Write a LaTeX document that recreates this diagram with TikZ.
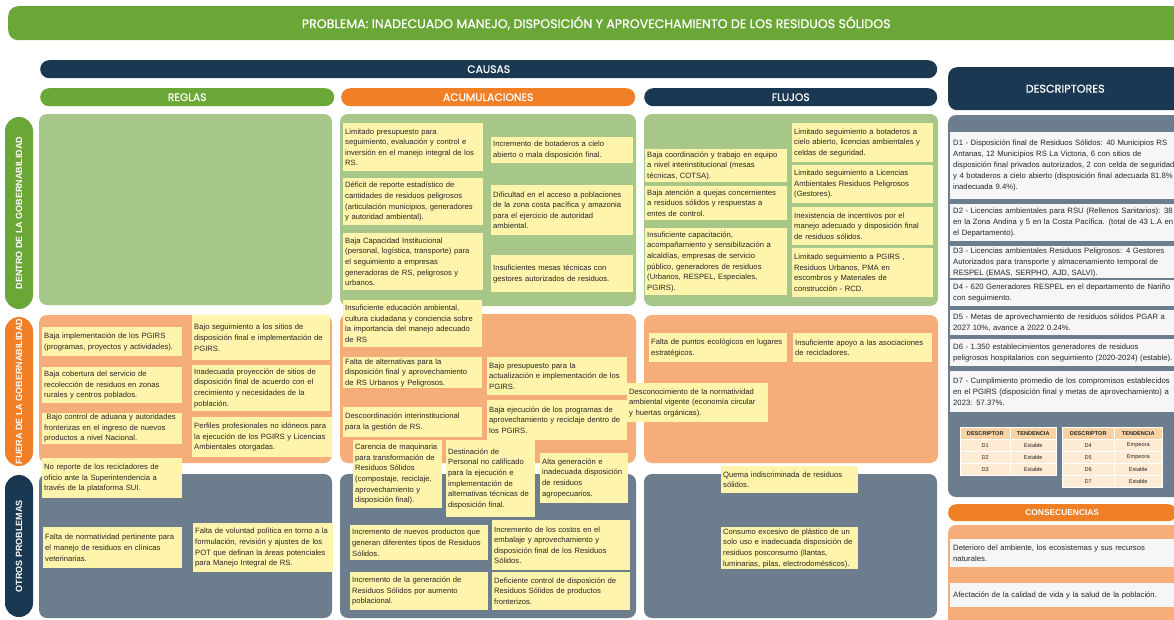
\documentclass[tikz,border=0pt]{standalone}
\usepackage{fontspec}
\setmainfont{Liberation Sans}
\newfontfamily\pop{Poppins}[FakeBold=0.6]
\definecolor{tgreen}{HTML}{6BA736}
\definecolor{lgreen}{HTML}{A7C789}
\definecolor{torange}{HTML}{F07F26}
\definecolor{lorange}{HTML}{F5AD7A}
\definecolor{navy}{HTML}{1B3853}
\definecolor{slate}{HTML}{6C7D8D}
\definecolor{yel}{HTML}{FFF4AB}
\definecolor{dwhite}{HTML}{F6F6F6}
\definecolor{ink}{HTML}{262626}
\definecolor{thead}{HTML}{F9D3A3}
\definecolor{trow}{HTML}{FDEBD3}
\begin{document}
\begin{tikzpicture}[x=1pt,y=-1pt,
  sb/.style={fill=yel, anchor=north west, inner xsep=2pt, inner ysep=1pt, align=left, font=\fontsize{7.65}{10.6}\selectfont, text=ink},
  db/.style={fill=dwhite, anchor=north west, inner xsep=3pt, inner ysep=1pt, align=left, text width=260pt, font=\fontsize{7.7}{10.9}\selectfont, text=ink},
  hbar/.style={anchor=north west, rounded corners=9pt, inner sep=0pt, text=white, font=\pop\fontsize{10.8}{12}\selectfont},
  pill/.style={rotate=90, rounded corners=14pt, minimum height=28pt, inner sep=0pt, text=white, font=\bfseries\fontsize{9}{10}\selectfont},
  cell/.style={anchor=north west, draw=white, line width=0.5pt, inner sep=0pt, minimum height=12pt, font=\fontsize{5.6}{6}\selectfont, text=ink},
  panel/.style={rounded corners=8pt}
]
\useasboundingbox (0,0) rectangle (1174,619);
\fill[white] (0,0) rectangle (1174,619);

% ---------- headers ----------
\node[hbar, fill=tgreen, rounded corners=10pt, minimum width=1176pt, minimum height=34pt, font=\pop\fontsize{12.6}{14}\selectfont] (title) at (8,6)
  {PROBLEMA: INADECUADO MANEJO, DISPOSICIÓN Y APROVECHAMIENTO DE LOS RESIDUOS SÓLIDOS};
\node[hbar, fill=navy, minimum width=897pt, minimum height=18pt] (causas) at (40,60) {CAUSAS};
\node[hbar, fill=tgreen, minimum width=294pt, minimum height=18pt] (reglas) at (40,88) {REGLAS};
\node[hbar, fill=torange, minimum width=294pt, minimum height=18pt] (acum) at (341,88) {ACUMULACIONES};
\node[hbar, fill=navy, minimum width=293pt, minimum height=18pt] (flujos) at (644,88) {FLUJOS};
\node[hbar, fill=navy, rounded corners=9pt, minimum width=234pt, minimum height=43pt, font=\pop\fontsize{11.2}{12}\selectfont] (descriptores) at (948,67) {DESCRIPTORES};

% ---------- side pills ----------
\node[pill, fill=tgreen, minimum width=192pt] (dentro) at (19,213) {DENTRO DE LA GOBERNABILIDAD};
\node[pill, fill=torange, minimum width=149pt] (fuera) at (19,391.5) {FUERA DE LA GOBERNABILIDAD};
\node[pill, fill=navy, minimum width=142pt] (otros) at (19,546) {OTROS PROBLEMAS};

% ---------- panels ----------
\fill[panel, lgreen] (39,114) rectangle (332,305);
\fill[panel, lgreen] (340,114) rectangle (636,306);
\fill[panel, lgreen] (644,114) rectangle (938,306);
\fill[panel, lorange] (39,315) rectangle (332,463);
\fill[panel, lorange] (340,314) rectangle (636,463);
\fill[panel, lorange] (644,315) rectangle (938,463);
\fill[panel, slate] (39,474) rectangle (332,618);
\fill[panel, slate] (340,474) rectangle (636,618);
\fill[panel, slate] (644,474) rectangle (937,618);
\fill[panel, slate] (948,115) rectangle (1190,497);
\fill[panel, lorange] (948,525) rectangle (1190,640);

% ---------- acumulaciones (green) ----------
\node[sb, text width=136pt, minimum height=48pt] (a1) at (343,123) {Limitado presupuesto para\\ seguimiento, evaluación y control e\\ inversión en el manejo integral de los\\ RS.};
\node[sb, text width=138pt, minimum height=26pt] (a2) at (491,137) {Incremento de botaderos a cielo\\ abierto o mala disposición final.};
\node[sb, text width=136pt, minimum height=47pt] (a3) at (343,178) {Déficit de reporte estadístico de\\ cantidades de residuos peligrosos\\ (articulación municipios, generadores\\ y autoridad ambiental).};
\node[sb, text width=138pt, minimum height=50pt] (a4) at (491,185) {Dificultad en el acceso a poblaciones\\ de la zona costa pacífica y amazonia\\ para el ejercicio de autoridad\\ ambiental.};
\node[sb, text width=136pt, minimum height=57pt] (a5) at (343,233) {Baja Capacidad Institucional\\ (personal, logística, transporte) para\\ el seguimiento a empresas\\ generadoras de RS, peligrosos y\\ urbanos.};
\node[sb, text width=138pt, minimum height=37pt] (a6) at (491,255) {Insuficientes mesas técnicas con\\ gestores autorizados de residuos.};
\node[sb, text width=135pt, minimum height=47pt] (a7) at (343,300) {Insuficiente educación ambiental,\\ cultura ciudadana y conciencia sobre\\ la importancia del manejo adecuado\\ de RS};

% ---------- acumulaciones (orange) ----------
\node[sb, text width=135pt, minimum height=31pt] (a8) at (343,357) {Falta de alternativas para la\\ disposición final y aprovechamiento\\ de RS Urbanos y Peligrosos.};
\node[sb, text width=136pt, minimum height=38pt] (a9) at (487,357) {Bajo presupuesto para la\\ actualización e implementación de los\\ PGIRS.};
\node[sb, text width=135pt, minimum height=30pt] (a10) at (343,407) {Descoordinación interinstitucional\\ para la gestión de RS.};
\node[sb, text width=136pt, minimum height=40pt] (a11) at (487,400) {Baja ejecución de los programas de\\ aprovechamiento y reciclaje dentro de\\ los PGIRS.};

% ---------- acumulaciones (gray) ----------
\node[sb, text width=85pt, minimum height=68pt] (a12) at (353,440) {Carencia de maquinaria\\ para transformación de\\ Residuos Sólidos\\ (compostaje, reciclaje,\\ aprovechamiento y\\ disposición final).};
\node[sb, text width=85pt, minimum height=77pt] (a13) at (446,440) {Destinación de\\ Personal no calificado\\ para la ejecución e\\ implementación de\\ alternativas técnicas de\\ disposición final.};
\node[sb, text width=84pt, minimum height=50pt] (a14) at (540,453) {Alta generación e\\ inadecuada disposición\\ de residuos\\ agropecuarios.};
\node[sb, text width=134pt, minimum height=35pt] (a15) at (350,525) {Incremento de nuevos productos que\\ generan diferentes tipos de Residuos\\ Sólidos.};
\node[sb, text width=134pt, minimum height=50pt] (a16) at (492,520) {Incremento de los costos en el\\ embalaje y aprovechamiento y\\ disposición final de los Residuos\\ Sólidos.};
\node[sb, text width=134pt, minimum height=38pt] (a17) at (350,572) {Incremento de la generación de\\ Residuos Sólidos por aumento\\ poblacional.};
\node[sb, text width=134pt, minimum height=38pt] (a18) at (492,572) {Deficiente control de disposición de\\ Residuos Sólidos de productos\\ fronterizos.};

% ---------- flujos (green) ----------
\node[sb, text width=138pt, minimum height=33pt] (f1) at (645,149) {Baja coordinación y trabajo en equipo\\ a nivel interinstitucional (mesas\\ técnicas, COTSA).};
\node[sb, text width=138pt, minimum height=34pt] (f2) at (645,186) {Baja atención a quejas concernientes\\ a residuos sólidos y respuestas a\\ entes de control.};
\node[sb, text width=138pt, minimum height=67pt] (f3) at (645,228) {Insuficiente capacitación,\\ acompañamiento y sensibilización a\\ alcaldías, empresas de servicio\\ público, generadores de residuos\\ (Urbanos, RESPEL, Especiales,\\ PGIRS).};
\node[sb, text width=137pt, minimum height=39pt] (f4) at (792,123) {Limitado seguimiento a botaderos a\\ cielo abierto, licencias ambientales y\\ celdas de seguridad.};
\node[sb, text width=137pt, minimum height=38pt] (f5) at (792,165) {Limitado seguimiento a Licencias\\ Ambientales Residuos Peligrosos\\ (Gestores).};
\node[sb, text width=137pt, minimum height=38pt] (f6) at (792,207) {Inexistencia de incentivos por el\\ manejo adecuado y disposición final\\ de residuos sólidos.};
\node[sb, text width=137pt, minimum height=49pt] (f7) at (792,248) {Limitado seguimiento a PGIRS ,\\ Residuos Urbanos, PMA en\\ escombros y Materiales de\\ construcción - RCD.};

% ---------- flujos (orange) ----------
\node[sb, text width=134pt, minimum height=29pt] (f8) at (649,333) {Falta de puntos ecológicos en lugares\\ estratégicos.};
\node[sb, text width=135pt, minimum height=29pt] (f9) at (793,333) {Insuficiente apoyo a las asociaciones\\ de recicladores.};
\node[sb, text width=137pt, minimum height=39pt] (f10) at (627,383) {Desconocimiento de la normatividad\\ ambiental vigente (economía circular\\ y huertas orgánicas).};

% ---------- flujos (gray) ----------
\node[sb, text width=133pt, minimum height=27pt] (f11) at (721,466) {Quema indiscriminada de residuos\\ sólidos.};
\node[sb, text width=133pt, minimum height=42pt] (f12) at (721,527) {Consumo excesivo de plástico de un\\ solo uso e inadecuada disposición de\\ residuos posconsumo (llantas,\\ luminarias, pilas, electrodomésticos).};

% ---------- reglas ----------
\node[sb, text width=136pt, minimum height=29pt] (r1) at (42,327) {Baja implementación de los PGIRS\\ (programas, proyectos y actividades).};
\node[sb, text width=134pt, minimum height=45pt] (r2) at (192,315) {Bajo seguimiento a los sitios de\\ disposición final e implementación de\\ PGIRS.};
\node[sb, text width=136pt, minimum height=36pt] (r3) at (42,367) {Baja cobertura del servicio de\\ recolección de residuos en zonas\\ rurales y centros poblados.};
\node[sb, text width=134pt, minimum height=46pt] (r4) at (192,365) {Inadecuada proyección de sitios de\\ disposición final de acuerdo con el\\ crecimiento y necesidades de la\\ población.};
\node[sb, text width=136pt, minimum height=30pt] (r5) at (42,413) {\ Bajo control de aduana y autoridades\\ fronterizas en el ingreso de nuevos\\ productos a nivel Nacional.};
\node[sb, text width=136pt, minimum height=40pt] (r6) at (192,417) {Perfiles profesionales no idóneos para\\ la ejecución de los PGIRS y Licencias\\ Ambientales otorgadas.};
\node[sb, text width=136pt, minimum height=40pt] (r7) at (42,458) {No reporte de los recicladores de\\ oficio ante la Superintendencia a\\ través de la plataforma SUI.};
\node[sb, text width=135pt, minimum height=41pt] (r8) at (43,527) {Falta de normatividad pertinente para\\ el manejo de residuos en clínicas\\ veterinarias.};
\node[sb, text width=136pt, minimum height=49pt] (r9) at (193,523) {Falta de voluntad política en torno a la\\ formulación, revisión y ajustes de los\\ POT que definan la áreas potenciales\\ para Manejo Integral de RS.};

% ---------- descriptores ----------
\node[db, minimum height=67pt] (d1) at (950,132) {D1 - Disposición final de Residuos Sólidos: 40 Municipios RS\\ Antanas, 12 Municipios RS La Victoria, 6 con sitios de\\ disposición final privados autorizados, 2 con celda de seguridad\\ y 4 botaderos a cielo abierto (disposición final adecuada 81.8\%\\ inadecuada 9.4\%).};
\node[db, minimum height=37pt] (d2) at (950,204) {D2 - Licencias ambientales para RSU (Rellenos Sanitarios): 38\\ en la Zona Andina y 5 en la Costa Pacífica. (total de 43 L.A en\\ el Departamento).};
\node[db, minimum height=32pt] (d3) at (950,246) {D3 - Licencias ambientales Residuos Peligrosos: 4 Gestores\\ Autorizados para transporte y almacenamiento temporal de\\ RESPEL (EMAS, SERPHO, AJD, SALVI).};
\node[db, minimum height=26pt] (d4) at (950,280) {D4 - 620 Generadores RESPEL en el departamento de Nariño\\ con seguimiento.};
\node[db, minimum height=25pt] (d5) at (950,310) {D5 - Metas de aprovechamiento de residuos sólidos PGAR a\\ 2027 10\%, avance a 2022 0.24\%.};
\node[db, minimum height=27pt] (d6) at (950,339) {D6 - 1.350 establecimientos generadores de residuos\\ peligrosos hospitalarios con seguimiento (2020-2024) (estable).};
\node[db, minimum height=41pt] (d7) at (950,371) {D7 - Cumplimiento promedio de los compromisos establecidos\\ en el PGIRS (disposición final y metas de aprovechamiento) a\\ 2023: 57.37\%.};

% ---------- tabla ----------
\node[cell, fill=thead, minimum width=50pt, font=\bfseries\fontsize{5.6}{6}\selectfont] (th1) at (960,427) {DESCRIPTOR};
\node[cell, fill=thead, minimum width=46pt, font=\bfseries\fontsize{5.6}{6}\selectfont] (th2) at (1010,427) {TENDENCIA};
\node[cell, fill=thead, minimum width=52pt, font=\bfseries\fontsize{5.6}{6}\selectfont] (th3) at (1062,427) {DESCRIPTOR};
\node[cell, fill=thead, minimum width=48pt, font=\bfseries\fontsize{5.6}{6}\selectfont] (th4) at (1114,427) {TENDENCIA};
\foreach \r/\a/\b in {1/D1/Estable,2/D2/Estable,3/D3/Estable}{
  \node[cell, fill=trow, minimum width=50pt] (tl\r a) at (960,427+12*\r) {\a};
  \node[cell, fill=trow, minimum width=46pt] (tl\r b) at (1010,427+12*\r) {\b};
}
\foreach \r/\a/\b in {1/D4/Empeora,2/D5/Empeora,3/D6/Estable,4/D7/Estable}{
  \node[cell, fill=trow, minimum width=52pt] (tr\r a) at (1062,427+12*\r) {\a};
  \node[cell, fill=trow, minimum width=48pt] (tr\r b) at (1114,427+12*\r) {\b};
}

% ---------- consecuencias ----------
\node[hbar, fill=torange, rounded corners=8pt, minimum width=228pt, minimum height=17pt, font=\bfseries\fontsize{8.4}{10}\selectfont] (consec) at (948,504) {CONSECUENCIAS};
\node[db, minimum height=28pt] (c1) at (950,539) {Deterioro del ambiente, los ecosistemas y sus recursos\\ naturales.};
\node[db, minimum height=24pt] (c2) at (950,583) {Afectación de la calidad de vida y la salud de la población.};
\end{tikzpicture}
\end{document}
